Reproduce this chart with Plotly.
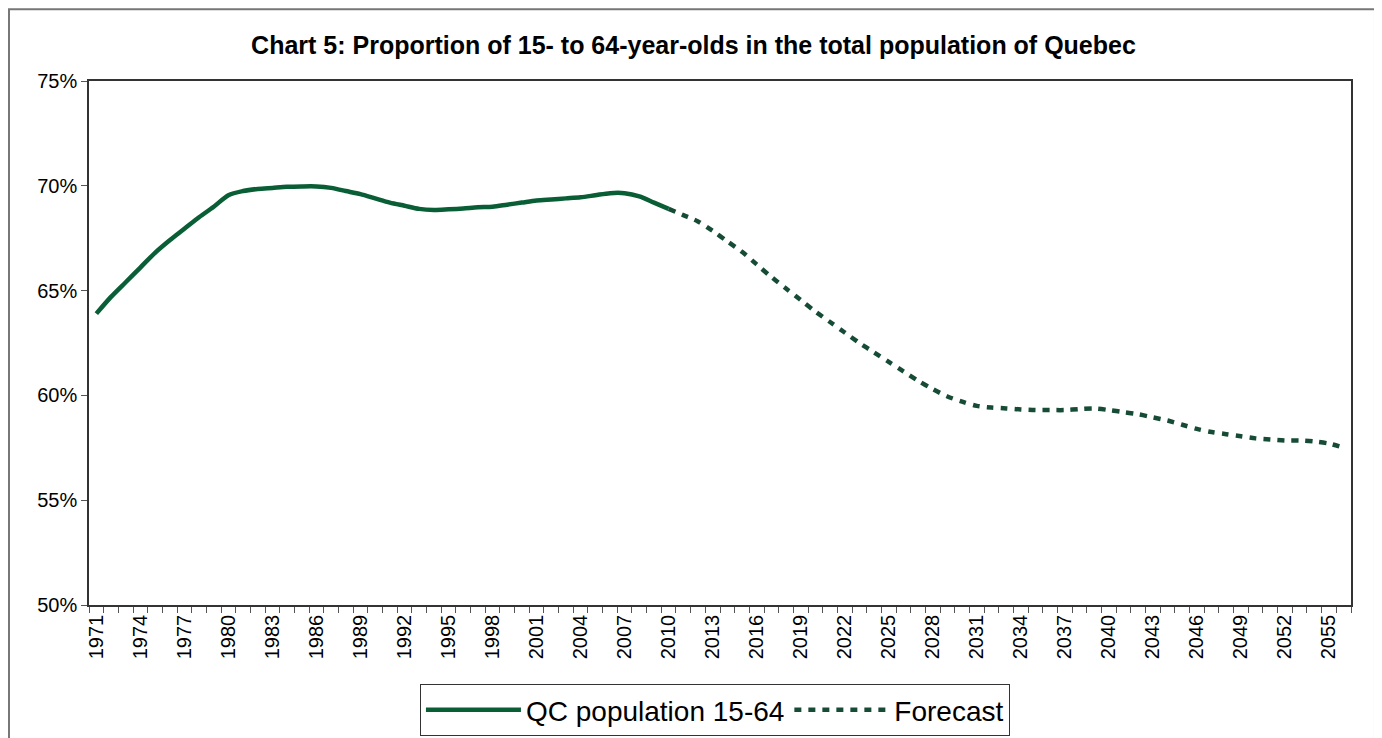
import plotly.graph_objects as go

# Share of 15-64 year-olds in Quebec's population (%)
hist_years = list(range(1971, 2011))
hist_share = [63.9, 64.7, 65.4, 66.1, 66.8, 67.4, 67.95, 68.5, 69.0, 69.55,
              69.75, 69.85, 69.9, 69.95, 69.97, 69.97, 69.9, 69.75, 69.6, 69.4,
              69.2, 69.05, 68.9, 68.85, 68.88, 68.92, 68.98, 69.0, 69.1, 69.2,
              69.3, 69.35, 69.4, 69.45, 69.55, 69.65, 69.65, 69.5, 69.2, 68.9]

fc_years = list(range(2010, 2057))
fc_share = [68.9, 68.6, 68.3, 67.85, 67.35, 66.85, 66.25, 65.65, 65.1, 64.55,
            64.0, 63.5, 63.0, 62.5, 62.05, 61.6, 61.15, 60.7, 60.3, 59.95,
            59.7, 59.5, 59.42, 59.38, 59.33, 59.3, 59.3, 59.3, 59.35, 59.38,
            59.3, 59.2, 59.1, 58.95, 58.8, 58.6, 58.4, 58.25, 58.15, 58.05,
            57.95, 57.9, 57.85, 57.85, 57.8, 57.7, 57.5]

label_years = list(range(1971, 2056, 3))
y_ticks = [50, 55, 60, 65, 70, 75]

all_years = list(range(hist_years[0], fc_years[-1] + 1))
boundaries = [y - 0.5 for y in all_years] + [all_years[-1] + 0.5]

FONT = "Liberation Sans, Arial, sans-serif"

fig = go.Figure()
fig.add_trace(go.Scatter(
    x=hist_years, y=hist_share, mode="lines", name="QC population 15-64",
    line=dict(color="#0a5e36", width=4.5, shape="spline", smoothing=0.8),
))
fig.add_trace(go.Scatter(
    x=fc_years, y=fc_share, mode="lines", name="Forecast",
    line=dict(color="#164c36", width=4.5, dash="7px,7px",
              shape="spline", smoothing=0.8),
))

# the page adds an 8px body margin, so the margins below are shifted by it
fig.update_layout(
    width=1382, height=738,
    margin=dict(l=81, r=39, t=73, b=141, autoexpand=False),
    paper_bgcolor="white", plot_bgcolor="white",
    font=dict(family=FONT, size=18, color="black"),
    title=dict(text="<b>Chart 5: Proportion of 15- to 64-year-olds in the total population of Quebec</b>",
               x=0.496, xanchor="center", y=0.95, yanchor="middle",
               font=dict(size=25, family=FONT)),
    showlegend=True,
    legend=dict(orientation="h", x=0.496, xanchor="center", y=-0.151, yanchor="top",
                bordercolor="#333", borderwidth=1, bgcolor="white",
                font=dict(size=28, family=FONT), itemwidth=95),
    shapes=[dict(type="rect", xref="paper", yref="paper",
                 x0=-0.0634, x1=1.019, y0=-0.3, y1=1.137,
                 line=dict(color="#777", width=2), layer="below")],
)

fig.update_xaxes(
    range=[boundaries[0], boundaries[-1]], automargin=False,
    tickmode="array", tickvals=label_years, ticktext=[str(y) for y in label_years],
    tickangle=-90, ticks="", showgrid=False, zeroline=False,
    showline=True, linecolor="#333", linewidth=1.5, mirror=True,
    minor=dict(tickmode="array", tickvals=boundaries, ticks="outside",
               ticklen=6, tickcolor="#555", showgrid=False),
    tickfont=dict(size=20),
)
fig.update_yaxes(
    range=[50, 75], tickmode="array", tickvals=y_ticks, automargin=False,
    ticktext=[f"{v}%" for v in y_ticks],
    ticks="outside", ticklen=6, tickcolor="#555", showgrid=False, zeroline=False,
    showline=True, linecolor="#333", linewidth=1.5, mirror=True,
    tickfont=dict(size=20),
)

fig.write_html("out.html")
